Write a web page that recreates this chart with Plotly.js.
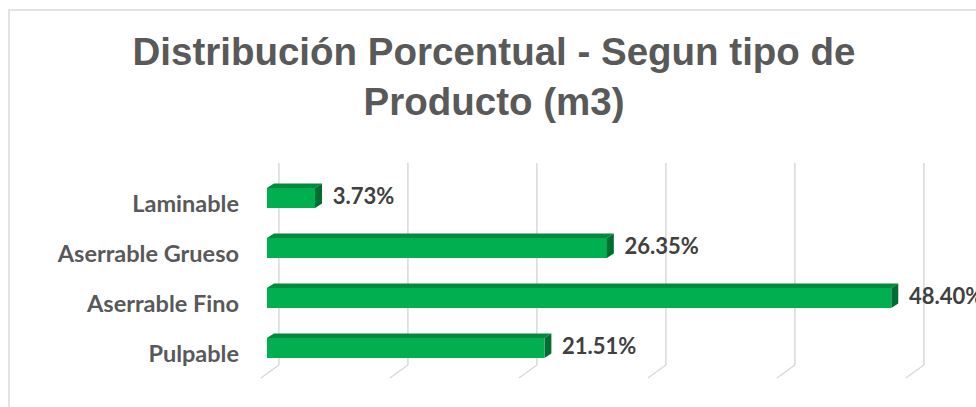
<!DOCTYPE html>
<html>
<head>
<meta charset="utf-8">
<script src="https://cdn.plot.ly/plotly-3.0.1.min.js"></script>
<style>
  html, body { margin: 0; padding: 0; background: #ffffff; }
  #wrap { position: relative; width: 976px; height: 407px; overflow: hidden; }
  #chart { position: absolute; left: 0; top: 0; width: 976px; height: 407px; }
  #frame { position: absolute; left: 8px; top: 9px; width: 1000px; height: 430px;
           border: 2px solid #e3e3e3; pointer-events: none; box-sizing: border-box; }
</style>
</head>
<body>
<div id="wrap">
  <div id="chart"></div>
  <div id="frame"></div>
</div>
<script>
// ---- data ----
const categories = ['Laminable', 'Aserrable Grueso', 'Aserrable Fino', 'Pulpable'];
const values = [3.73, 26.35, 48.40, 21.51];
const valueLabels = ['3.73%', '26.35%', '48.40%', '21.51%'];
const gridTicks = [0, 10, 20, 30, 40, 50];

// ---- geometry helpers (pixels -> data units) ----
const W = 976, H = 407;
const mL = 254, mR = 0, mT = 173, mB = 34;
const pxPerUnit = 12.9;
const xMin = -1;
const xMax = xMin + (W - mL - mR) / pxPerUnit;
const plotH = H - mT - mB;
const pxPerCat = plotH / categories.length;

const barW = 0.40;                 // front face thickness (category units)
const depthX = 7 / pxPerUnit;      // 3D depth offset in x
const depthY = 4.5 / pxPerCat;     // 3D depth offset in y

const idx = categories.map((c, i) => i);

const front = {
  type: 'bar', orientation: 'h',
  x: values, y: idx, width: barW,
  marker: { color: '#00B050', line: { width: 0 } },
  hoverinfo: 'skip', showlegend: false
};

// top faces and side faces built from the values
const topX = [], topY = [], sideX = [], sideY = [];
values.forEach((v, i) => {
  const yt = i - barW / 2, yb = i + barW / 2;
  topX.push(0, v, v + depthX, depthX, 0, null);
  topY.push(yt, yt, yt - depthY, yt - depthY, yt, null);
  sideX.push(v, v + depthX, v + depthX, v, v, null);
  sideY.push(yt, yt - depthY, yb - depthY, yb, yt, null);
});
const topFace = {
  type: 'scatter', mode: 'lines', x: topX, y: topY, fill: 'toself',
  fillcolor: '#008A3E', line: { width: 0, color: '#008A3E' },
  hoverinfo: 'skip', showlegend: false
};
const sideFace = {
  type: 'scatter', mode: 'lines', x: sideX, y: sideY, fill: 'toself',
  fillcolor: '#006E30', line: { width: 0, color: '#006E30' },
  hoverinfo: 'skip', showlegend: false
};
const labels = {
  type: 'scatter', mode: 'text',
  x: values.map(v => v + depthX + 0.83), y: idx,
  text: valueLabels, textposition: 'middle right',
  textfont: { family: 'Lato, Carlito, sans-serif', size: 22, color: '#404040', weight: 700 },
  cliponaxis: false, hoverinfo: 'skip', showlegend: false
};

// gridlines (back wall + floor), drawn from tick values
const gridBackDX = 12 / pxPerUnit, gridFrontDX = -6 / pxPerUnit;
const pyToPaper = py => (H - mB - py) / plotH;
const shapes = [];
gridTicks.forEach(t => {
  shapes.push({ type: 'line', layer: 'below', xref: 'x', yref: 'paper',
    x0: t + gridBackDX, x1: t + gridBackDX, y0: pyToPaper(163), y1: pyToPaper(365),
    line: { color: '#d9d9d9', width: 1.5 } });
  shapes.push({ type: 'line', layer: 'below', xref: 'x', yref: 'paper',
    x0: t + gridBackDX, x1: t + gridFrontDX, y0: pyToPaper(365), y1: pyToPaper(378),
    line: { color: '#d9d9d9', width: 1.5 } });
});

const layout = {
  width: W, height: H,
  margin: { l: mL, r: mR, t: mT, b: mB, pad: 0 },
  paper_bgcolor: 'rgba(0,0,0,0)', plot_bgcolor: 'rgba(0,0,0,0)',
  title: {
    text: 'Distribución Porcentual - Segun tipo de<br>Producto (m3)',
    font: { family: 'Liberation Sans, Arial, sans-serif', size: 38.5, color: '#595959', weight: 700 },
    xref: 'container', x: 494 / W, xanchor: 'center',
    yref: 'container', y: 1 - 65 / H, yanchor: 'top'
  },
  xaxis: { range: [xMin, xMax], showgrid: false, zeroline: false, showline: false,
           showticklabels: false, ticks: '', fixedrange: true },
  yaxis: { range: [categories.length - 0.5, -0.5], tickvals: idx, ticktext: categories,
           showgrid: false, zeroline: false, showline: false, ticks: '',
           ticklabelstandoff: 14, ticklabelshift: -6,
           tickfont: { family: 'Lato, Carlito, sans-serif', size: 23.5, color: '#595959', weight: 700 },
           fixedrange: true },
  shapes: shapes,
  showlegend: false,
  bargap: 0
};

Plotly.newPlot('chart', [front, topFace, sideFace, labels], layout, { displayModeBar: false, staticPlot: true });
</script>
</body>
</html>
